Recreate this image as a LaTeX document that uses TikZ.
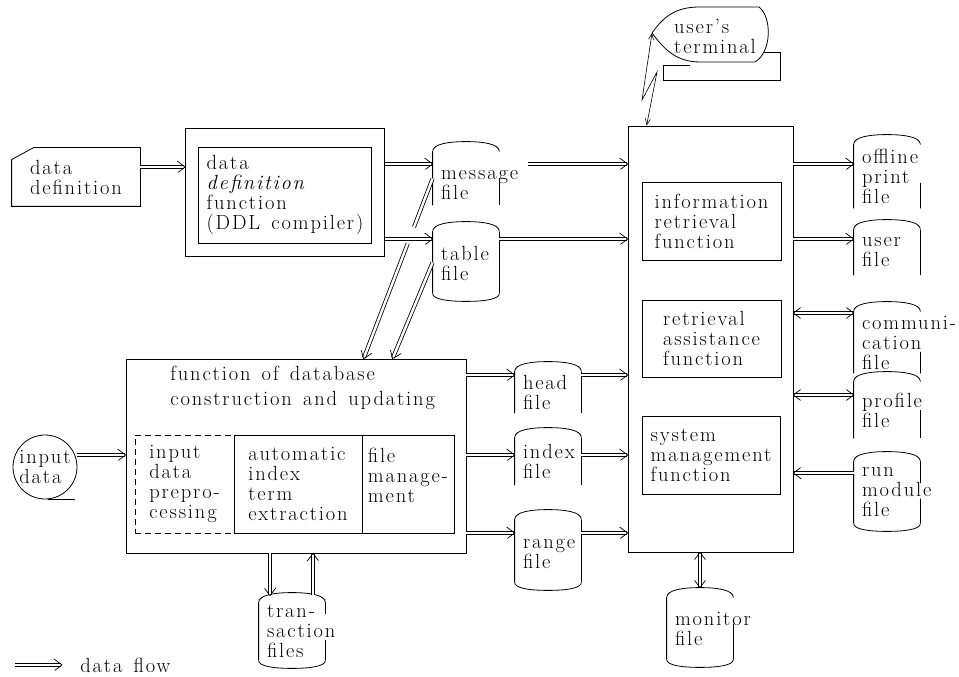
\documentclass[tikz,border=0pt]{standalone}
\usepackage{fontspec}
\setmainfont{Latin Modern Roman}[LetterSpace=9, WordSpace=1.4]
\usepackage{tikz}
\usetikzlibrary{positioning, calc, arrows.meta, decorations.markings}

% outline of a file: node, gap in the right side (from, to)
\newcommand{\drawfile}[3]{%
  \draw (#1.south west) -- (#1.north west)
    .. controls +(0,8) and +(-16,0) .. ($(#1.north)+(0,10)$)
    .. controls +(16,0) and +(0,8) .. (#1.north east)
    -- ($(#1.north east)!#2!(#1.south east)$);
  \draw ($(#1.north east)!#3!(#1.south east)$) -- (#1.south east);}
\newcommand{\filebottom}[1]{%
  \draw (#1.south west) .. controls +(0,-6) and +(-18,0) .. ($(#1.south)+(0,-8)$)
    .. controls +(18,0) and +(0,-6) .. (#1.south east);}

\begin{document}
\begin{tikzpicture}[x=1pt, y=1pt, line width=0.8pt, font=\fontsize{20.5}{20}\selectfont]
    % Setup the styles
        \tikzset{box style/.style={draw, align=left, inner sep=0pt},
                 file style/.style={text width=50pt, inner xsep=8pt, inner ysep=0pt,
                                    minimum width=66pt, align=left},
                 tip end/.style={postaction={decorate, decoration={markings,
                     mark=at position 1 with {\draw[line width=0.7pt] (-8,6) -- (0,0) -- (-8,-6);}}}},
                 tip start/.style={postaction={decorate, decoration={markings,
                     mark=at position 0 with {\draw[line width=0.7pt] (8,6) -- (0,0) -- (8,-6);}}}},
                 flow line/.style={draw, double, double distance=2.4pt, line width=0.8pt},
                 flow/.style={flow line, shorten >=1pt, tip end},
                 both flow/.style={flow line, shorten >=1pt, shorten <=1pt, tip start, tip end},
                 flow edges/.style={every edge/.style={flow}},
                 both edges/.style={every edge/.style={both flow}},
                 signal/.style={line width=0.6pt,
                                {Straight Barb[length=6pt,width=5pt]}-{Straight Barb[length=6pt,width=5pt]}}}

        \useasboundingbox (0,0) rectangle (959,677);

        % Draw the boxes
        \node[align=left, minimum width=128pt, minimum height=58pt, inner sep=0pt] at (76,500) (datadef) {data\\definition};
        \draw ($(datadef.north west)+(22,0)$) -- (datadef.north east) -- (datadef.south east)
              -- (datadef.south west) -- ($(datadef.north west)+(0,-12)$) -- cycle;
        \node[box style, minimum width=199pt, minimum height=128pt] at (285,485) (ddl) {};
        \node[box style, minimum width=173pt, minimum height=96pt] at (285,482) (ddlfn)
            {data\\\textit{definition}\\function\\(DDL compiler)};

        \node[box style, minimum width=340pt, minimum height=194pt] at (296,221) (dbbox) {};
        \node[anchor=west, align=left, inner sep=0pt, font=\fontsize{20.5}{25}\selectfont] at (170,289) (dbtitle)
            {function of database\\construction and updating};
        \node[box style, dash pattern=on 6pt off 4pt, minimum width=99pt, minimum height=98pt] at (184.5,193) (prep)
            {input\\data\\prepro-\\cessing};
        \node[box style, minimum width=128pt, minimum height=98pt] at (298,193) (autoidx)
            {automatic\\index\\term\\extraction};
        \node[box style, minimum width=92pt, minimum height=98pt, text depth=18pt] at (408,193) (filemgmt)
            {file\\manage-\\ment};

        \node[box style, minimum width=165pt, minimum height=426pt] at (710.5,338) (mainbox) {};
        \node[box style, minimum width=139pt, minimum height=78pt] at (711.5,456) (infofn)
            {information\\retrieval\\function};
        \node[box style, minimum width=139pt, minimum height=77pt] at (711.5,338.5) (assistfn)
            {retrieval\\assistance\\function};
        \node[box style, minimum width=138pt, minimum height=78pt] at (711,222) (sysfn)
            {system\\management\\function};

        \node[circle, draw, align=left, inner sep=0pt, minimum size=64pt] at (45,210) (inputdata) {input\\data};
        \draw ([xshift=3pt]inputdata.south) -- ([xshift=30pt]inputdata.south);

        % Draw the files
        \node[file style, minimum height=53pt, text depth=8pt] at (466,498.5) (msgfile) {\mbox{message}\\file};
        \node[file style, minimum height=61pt, text depth=18pt] at (466,414.5) (tabfile) {table\\file};
        \node[file style, minimum height=41pt] at (548,284.5) (headfile) {head\\file};
        \node[file style, minimum height=47pt] at (548,215.5) (indexfile) {index\\file};
        \node[file style, minimum height=62pt, text depth=15pt] at (548,126) (rangefile) {range\\file};
        \node[file style, minimum height=61pt] at (700,48.5) (monfile) {\mbox{monitor}\\file};
        \node[file style, minimum height=57pt] at (292,45.5) (transfile) {\mbox{tran-}\\\mbox{saction}\\files};
        \node[file style, minimum height=63pt] at (887,500.5) (printfile) {\mbox{offline}\\print\\file};
        \node[file style, minimum height=45pt] at (887,424.5) (userfile) {user\\file};
        \node[file style, minimum height=61pt] at (887,334.5) (commfile) {\mbox{communi-}\\cation\\file};
        \node[file style, minimum height=56pt] at (887,267) (proffile) {\mbox{profile}\\file};
        \node[file style, minimum height=61pt] at (887,184.5) (runfile) {run\\\mbox{module}\\file};

        \drawfile{msgfile}{0}{0.5}
        \drawfile{tabfile}{0}{0} \filebottom{tabfile}
        \drawfile{headfile}{0}{0}
        \drawfile{indexfile}{0}{0}
        \drawfile{rangefile}{0}{0} \filebottom{rangefile}
        \drawfile{monfile}{0}{0.42} \filebottom{monfile}
        \drawfile{transfile}{0.2}{0.65} \filebottom{transfile}
        \drawfile{printfile}{0}{0.6}
        \drawfile{userfile}{0}{0}
        \drawfile{commfile}{0}{0.65}
        \drawfile{proffile}{0}{0.5}
        \drawfile{runfile}{0.35}{0.6} \filebottom{runfile}

        % Draw the user's terminal
        \draw (652,644) .. controls (664,661) and (676,670) .. (700,670) -- (759,670)
              .. controls (772,660) and (772,625) .. (755,615) -- (700,615)
              .. controls (676,615) and (664,628) .. (652,644) -- cycle;
        \draw (690,612) -- (663,612) -- (663,597) -- (780,597) -- (780,625) -- (763,625);
        \node[align=left, inner sep=0pt] at (715,641) (terminal) {user's\\terminal};
        \coordinate (termtip) at (652,644);

        % Connect the boxes with arrows
        \coordinate (rowdef) at (0,510);
        \coordinate (rowmsg) at (0,513);
        \coordinate (rowtab) at (0,438);
        \coordinate (rowcomm) at (0,364);
        \coordinate (rowhead) at (0,302);
        \coordinate (rowprof) at (0,282);
        \coordinate (rowindex) at (0,222);
        \coordinate (rowrun) at (0,204);
        \coordinate (rowrange) at (0,144);
        \coordinate (coldown) at (270,0);
        \coordinate (colup) at (313,0);
        \coordinate (dbin1) at ($(dbbox.north west)+(238,0)$);
        \coordinate (dbin2) at ($(dbbox.north west)+(267,0)$);

        \path[flow edges]
            (datadef.east |- rowdef)  edge (ddl.west |- rowdef)
            (ddl.east |- rowmsg)      edge (msgfile.west |- rowmsg)
            (ddl.east |- rowtab)      edge (tabfile.west |- rowtab)
            ($(msgfile.east |- rowmsg)+(29,0)$) edge (mainbox.west |- rowmsg)
            (tabfile.east |- rowtab)  edge (mainbox.west |- rowtab)
            (dbbox.east |- rowhead)   edge (headfile.west |- rowhead)
            (headfile.east |- rowhead) edge (mainbox.west |- rowhead)
            (dbbox.east |- rowindex)  edge (indexfile.west |- rowindex)
            (indexfile.east |- rowindex) edge (mainbox.west |- rowindex)
            (dbbox.east |- rowrange)  edge (rangefile.west |- rowrange)
            (rangefile.east |- rowrange) edge (mainbox.west |- rowrange)
            (inputdata.east |- rowindex) edge (dbbox.west |- rowindex)
            (mainbox.east |- rowmsg)  edge (printfile.west |- rowmsg)
            (mainbox.east |- rowtab)  edge (userfile.west |- rowtab)
            (runfile.west |- rowrun)  edge (mainbox.east |- rowrun)
            (dbbox.south -| coldown)  edge ($(transfile.north -| coldown)+(0,7)$)
            ($(transfile.north -| colup)+(0,8)$) edge (dbbox.south -| colup)
            ($(msgfile.west)!0.36!(dbin1)$) edge (dbin1)
            (tabfile.west)            edge (dbin2);
        \draw[flow line] (msgfile.west) -- ($(msgfile.west)!0.27!(dbin1)$);
        \path[both edges]
            (mainbox.east |- rowcomm) edge (commfile.west |- rowcomm)
            (mainbox.east |- rowprof) edge (proffile.west |- rowprof)
            (mainbox.south -| monfile.north) edge ($(monfile.north)+(0,10)$);
        \draw[signal] (termtip) -- (642,577) -- (657,605) -- ($(mainbox.north west)+(19,0)$);

        % Legend
        \node[anchor=west, inner sep=0pt] at (80,12) (legend) {data flow};
        \coordinate (legstart) at (15,12);
        \path[flow edges] (legstart) edge ($(legend.west)+(-18,0)$);
\end{tikzpicture}
\end{document}
